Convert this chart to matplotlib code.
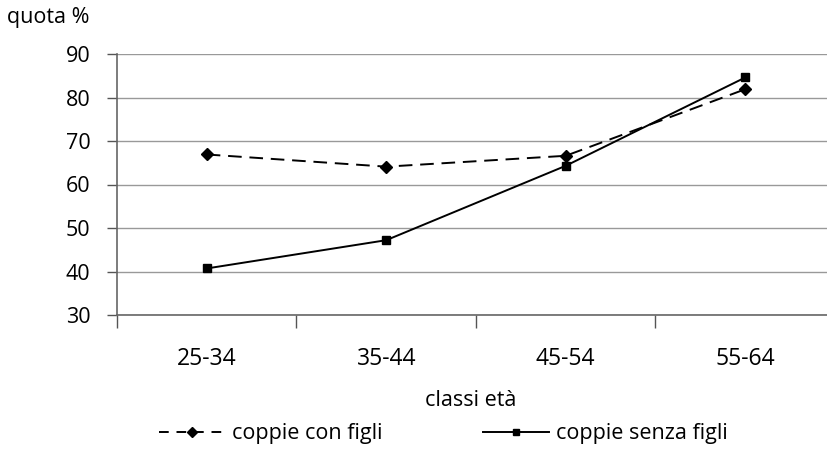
import matplotlib
matplotlib.use("Agg")
import matplotlib.pyplot as plt
from matplotlib.lines import Line2D

plt.rcParams['font.family'] = ['Open Sans', 'DejaVu Sans']

classi = ["25-34", "35-44", "45-54", "55-64"]
con_figli = [66.9, 64.1, 66.6, 81.9]
senza_figli = [40.7, 47.2, 64.3, 84.6]

fig = plt.figure(figsize=(8.28, 4.49), dpi=100)
ax = fig.add_axes([117 / 828, 1 - 315 / 449, 718 / 828, 261 / 449])

x = [0.5, 1.5, 2.5, 3.5]
dash = (0, (7, 4))
ax.plot(x, con_figli, color="black", lw=1.4, linestyle=dash, marker="D", ms=6)
ax.plot(x, senza_figli, color="black", lw=1.4, marker="s", ms=6)

ax.set_xlim(0, 4)
ax.set_ylim(30, 90)
ax.set_yticks(range(30, 91, 10))
ax.set_xticks([0, 1, 2, 3, 4])
ax.set_xticklabels([])
ax.set_xticks(x, minor=True)
ax.set_xticklabels(classi, minor=True)
ax.tick_params(axis="x", which="minor", length=0, pad=23, labelsize=16.5)
ax.tick_params(axis="x", which="major", length=9, width=1, color="#555555")
ax.tick_params(axis="y", length=7, width=1, color="#555555", labelsize=15.5, pad=12)
ax.grid(axis="y", color="#999999", lw=1)
ax.set_axisbelow(True)

for s in ["top", "right"]:
    ax.spines[s].set_visible(False)
for s in ["left", "bottom"]:
    ax.spines[s].set_color("#666666")
    ax.spines[s].set_linewidth(1.2)

fig.text(7 / 828, 1 - 18 / 449, "quota %", fontsize=15.5, va="center", ha="left")
fig.text(471 / 828, 1 - 400 / 449, "classi età", fontsize=15.5, va="center", ha="center")

handles = [
    Line2D([], [], color="black", lw=1.4, linestyle=(0, (5, 4)), marker="D", ms=5),
    Line2D([], [], color="black", lw=1.4, marker="s", ms=4.5),
]
fig.legend(handles, ["coppie con figli", "coppie senza figli"], ncol=2,
           frameon=False, fontsize=15.5, handlelength=3.05, handletextpad=0.33,
           columnspacing=4.7, borderpad=0, borderaxespad=0,
           loc="center left", bbox_to_anchor=(159 / 828, 1 - 434 / 449))

fig.savefig("out.png", dpi=100)
